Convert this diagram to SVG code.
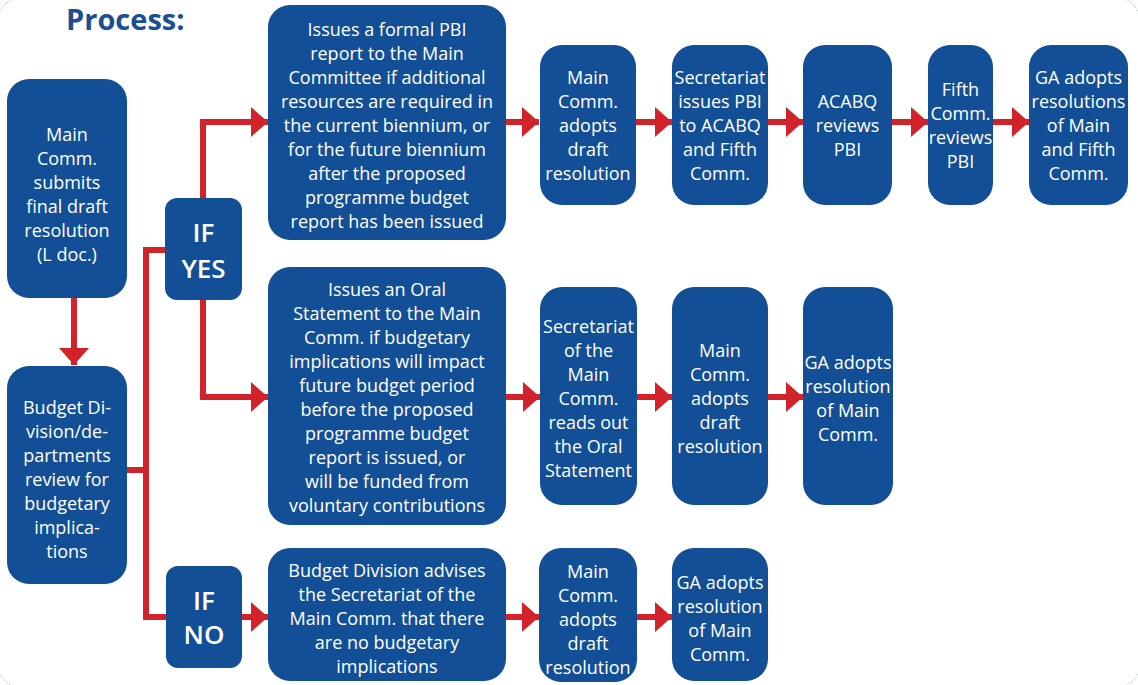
<svg xmlns="http://www.w3.org/2000/svg" width="1138" height="685" viewBox="0 0 1138 685">
<defs>
<style>
.box{fill:#134f96}
.t{font-family:"Open Sans","Noto Sans","Liberation Sans",sans-serif;font-size:18px;fill:#ffffff;text-anchor:middle}
.cond{font-family:"Open Sans","Noto Sans","Liberation Sans",sans-serif;font-size:26px;font-weight:600;fill:#ffffff;text-anchor:middle}
.title{font-family:"Open Sans","Noto Sans","Liberation Sans",sans-serif;font-size:29px;font-weight:700;fill:#1a4f94}
.c{fill:none;stroke:#d2232a;stroke-width:6}
.a{marker-end:url(#ah)}
</style>
<marker id="ah" markerUnits="userSpaceOnUse" markerWidth="17" markerHeight="30" refX="17" refY="15" orient="auto">
<path d="M0,0 L17,15 L0,30 Z" fill="#d2232a"/>
</marker>
</defs>
<rect x="-4" y="-4" width="1146" height="693" rx="30" fill="none" stroke="#6d93c9" stroke-width="1" stroke-dasharray="1 2"/>
<text class="title" x="66" y="30">Process:</text>

<g id="connectors">
<path class="c a" d="M74,298 V365"/>
<path class="c" d="M127,470 H146"/>
<path class="c" d="M165,250 H146 V617 H166"/>
<path class="c a" d="M203,198 V122 H268"/>
<path class="c a" d="M203,300 V397 H268"/>
<path class="c a" d="M242,617 H268"/>
<path class="c a" d="M506,122 H539"/>
<path class="c a" d="M636,122 H672"/>
<path class="c a" d="M768,122 H803"/>
<path class="c a" d="M892,122 H928"/>
<path class="c a" d="M993,122 H1029"/>
<path class="c a" d="M506,397 H540"/>
<path class="c a" d="M637,397 H672"/>
<path class="c a" d="M768,397 H803"/>
<path class="c a" d="M506,617 H539"/>
<path class="c a" d="M637,617 H672"/>
</g>

<g id="n-submit">
<rect class="box" x="7" y="79" width="120" height="219" rx="22"/>
<text class="t" x="67" y="141">Main</text>
<text class="t" x="67" y="165">Comm.</text>
<text class="t" x="67" y="189">submits</text>
<text class="t" x="67" y="213">final draft</text>
<text class="t" x="67" y="237">resolution</text>
<text class="t" x="67" y="261">(L doc.)</text>
</g>

<g id="n-review">
<rect class="box" x="7" y="366" width="120" height="218" rx="22"/>
<text class="t" x="67" y="414">Budget Di-</text>
<text class="t" x="67" y="438">vision/de-</text>
<text class="t" x="67" y="462">partments</text>
<text class="t" x="67" y="486">review for</text>
<text class="t" x="67" y="510">budgetary</text>
<text class="t" x="67" y="534">implica-</text>
<text class="t" x="67" y="558">tions</text>
</g>

<g id="n-ifyes">
<rect class="box" x="165" y="198" width="77" height="102" rx="12"/>
<text class="cond" x="203.5" y="242">IF</text>
<text class="cond" x="203.5" y="278">YES</text>
</g>

<g id="n-ifno">
<rect class="box" x="166" y="566" width="76" height="102" rx="12"/>
<text class="cond" x="204" y="610">IF</text>
<text class="cond" x="204" y="644">NO</text>
</g>

<g id="n-pbi">
<rect class="box" x="268" y="5" width="238" height="235" rx="22"/>
<text class="t" x="387" y="36">Issues a formal PBI</text>
<text class="t" x="387" y="60">report to the Main</text>
<text class="t" x="387" y="84">Committee if additional</text>
<text class="t" x="387" y="108">resources are required in</text>
<text class="t" x="387" y="132">the current biennium, or</text>
<text class="t" x="387" y="156">for the future biennium</text>
<text class="t" x="387" y="180">after the proposed</text>
<text class="t" x="387" y="204">programme budget</text>
<text class="t" x="387" y="228">report has been issued</text>
</g>

<g id="n-adopt1">
<rect class="box" x="540" y="45" width="96" height="160" rx="22"/>
<text class="t" x="588" y="84">Main</text>
<text class="t" x="588" y="108">Comm.</text>
<text class="t" x="588" y="132">adopts</text>
<text class="t" x="588" y="156">draft</text>
<text class="t" x="588" y="180">resolution</text>
</g>

<g id="n-secpbi">
<rect class="box" x="672" y="45" width="96" height="160" rx="22"/>
<text class="t" x="720" y="84">Secretariat</text>
<text class="t" x="720" y="108">issues PBI</text>
<text class="t" x="720" y="132">to ACABQ</text>
<text class="t" x="720" y="156">and Fifth</text>
<text class="t" x="720" y="180">Comm.</text>
</g>

<g id="n-acabq">
<rect class="box" x="803" y="45" width="89" height="160" rx="22"/>
<text class="t" x="847.5" y="108">ACABQ</text>
<text class="t" x="847.5" y="132">reviews</text>
<text class="t" x="847.5" y="156">PBI</text>
</g>

<g id="n-fifth">
<rect class="box" x="928" y="45" width="65" height="160" rx="22"/>
<text class="t" x="960.5" y="96">Fifth</text>
<text class="t" x="960.5" y="120">Comm.</text>
<text class="t" x="960.5" y="144">reviews</text>
<text class="t" x="960.5" y="168">PBI</text>
</g>

<g id="n-ga1">
<rect class="box" x="1029" y="45" width="99" height="160" rx="22"/>
<text class="t" x="1078.5" y="84">GA adopts</text>
<text class="t" x="1078.5" y="108">resolutions</text>
<text class="t" x="1078.5" y="132">of Main</text>
<text class="t" x="1078.5" y="156">and Fifth</text>
<text class="t" x="1078.5" y="180">Comm.</text>
</g>

<g id="n-oral">
<rect class="box" x="268" y="267" width="238" height="258" rx="22"/>
<text class="t" x="387" y="296">Issues an Oral</text>
<text class="t" x="387" y="320">Statement to the Main</text>
<text class="t" x="387" y="344">Comm. if budgetary</text>
<text class="t" x="387" y="368">implications will impact</text>
<text class="t" x="387" y="392">future budget period</text>
<text class="t" x="387" y="416">before the proposed</text>
<text class="t" x="387" y="440">programme budget</text>
<text class="t" x="387" y="464">report is issued, or</text>
<text class="t" x="387" y="488">will be funded from</text>
<text class="t" x="387" y="512">voluntary contributions</text>
</g>

<g id="n-reads">
<rect class="box" x="540" y="287" width="97" height="218" rx="22"/>
<text class="t" x="588.5" y="333">Secretariat</text>
<text class="t" x="588.5" y="357">of the</text>
<text class="t" x="588.5" y="381">Main</text>
<text class="t" x="588.5" y="405">Comm.</text>
<text class="t" x="588.5" y="429">reads out</text>
<text class="t" x="588.5" y="453">the Oral</text>
<text class="t" x="588.5" y="477">Statement</text>
</g>

<g id="n-adopt2">
<rect class="box" x="672" y="287" width="96" height="218" rx="22"/>
<text class="t" x="720" y="357">Main</text>
<text class="t" x="720" y="381">Comm.</text>
<text class="t" x="720" y="405">adopts</text>
<text class="t" x="720" y="429">draft</text>
<text class="t" x="720" y="453">resolution</text>
</g>

<g id="n-ga2">
<rect class="box" x="803" y="287" width="90" height="218" rx="22"/>
<text class="t" x="848" y="369">GA adopts</text>
<text class="t" x="848" y="393">resolution</text>
<text class="t" x="848" y="417">of Main</text>
<text class="t" x="848" y="441">Comm.</text>
</g>

<g id="n-advises">
<rect class="box" x="268" y="548" width="238" height="133" rx="22"/>
<text class="t" x="387" y="577">Budget Division advises</text>
<text class="t" x="387" y="601">the Secretariat of the</text>
<text class="t" x="387" y="625">Main Comm. that there</text>
<text class="t" x="387" y="649">are no budgetary</text>
<text class="t" x="387" y="673">implications</text>
</g>

<g id="n-adopt3">
<rect class="box" x="539" y="548" width="98" height="134" rx="22"/>
<text class="t" x="588" y="578">Main</text>
<text class="t" x="588" y="602">Comm.</text>
<text class="t" x="588" y="626">adopts</text>
<text class="t" x="588" y="650">draft</text>
<text class="t" x="588" y="674">resolution</text>
</g>

<g id="n-ga3">
<rect class="box" x="672" y="548" width="96" height="133" rx="22"/>
<text class="t" x="720" y="589">GA adopts</text>
<text class="t" x="720" y="613">resolution</text>
<text class="t" x="720" y="637">of Main</text>
<text class="t" x="720" y="661">Comm.</text>
</g>
</svg>
